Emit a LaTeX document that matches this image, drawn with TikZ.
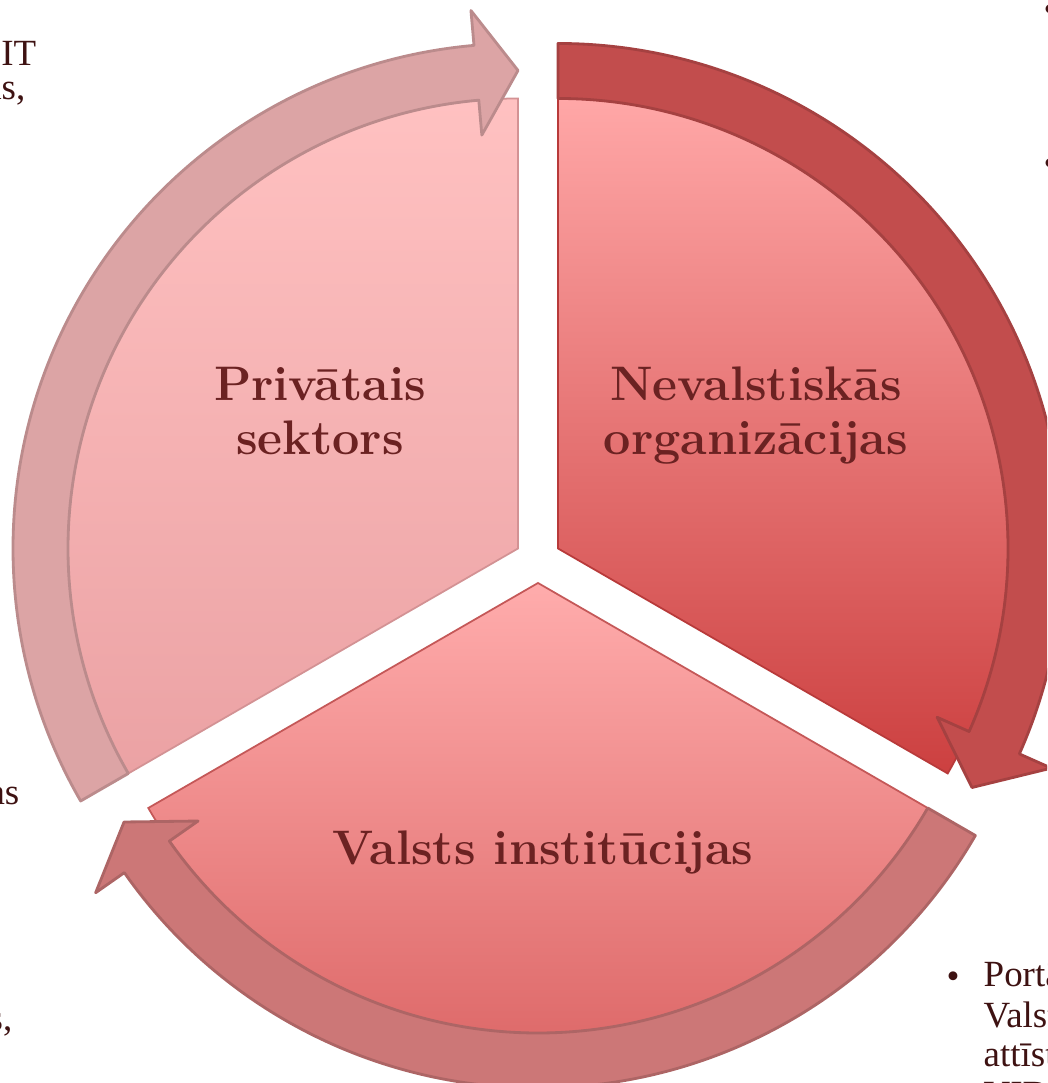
\documentclass[tikz,border=0pt]{standalone}
\usepackage{fontspec}
\usepackage{tikz}
\newfontfamily\fragfont{Liberation Serif}

\definecolor{privtop}{HTML}{FFC1C1}
\definecolor{privbot}{HTML}{EBA2A4}
\definecolor{privarrow}{HTML}{DCA4A5}
\definecolor{ngotop}{HTML}{FFA7A7}
\definecolor{ngobot}{HTML}{CC4040}
\definecolor{ngoarrow}{HTML}{C24D4D}
\definecolor{statetop}{HTML}{FFACAC}
\definecolor{statebot}{HTML}{DA6262}
\definecolor{statearrow}{HTML}{CC7777}
\definecolor{labelred}{HTML}{6B2222}
\definecolor{fragdark}{HTML}{3E1212}

% wedges (1 unit = 1 px of the reference)
\def\privwedge{(518,534.5) -- ++(210:450) arc[start angle=210, end angle=90, radius=450] -- cycle}
\def\ngowedge{(558,534.5) -- ++(90:450) arc[start angle=90, end angle=-30, radius=450] -- cycle}
\def\statewedge{(538,500) -- ++(330:450) arc[start angle=330, end angle=210, radius=450] -- cycle}

% circular arrows, around the apex of their wedge
\def\privband{(210:505) arc[start angle=210, end angle=95, radius=505] -- (95:540) -- (90:478) -- (95:415) -- (95:450) arc[start angle=95, end angle=210, radius=450] -- cycle}
\def\ngoband{(90:505) arc[start angle=90, end angle=-24, radius=505] -- (-24:540) -- (-30:478) -- (-24:415) -- (-24:450) arc[start angle=-24, end angle=90, radius=450] -- cycle}
\def\stateband{(330:505) arc[start angle=330, end angle=215, radius=505] -- (215:540) -- (210:478) -- (215:415) -- (215:450) arc[start angle=215, end angle=330, radius=450] -- cycle}

\tikzset{
  maintext/.style={text=labelred, align=center, inner sep=0pt,
    font=\fontsize{13.8}{15.6}\selectfont\bfseries},
  fragtext/.style={text=fragdark, inner sep=0pt,
    font=\fragfont\fontsize{10.5}{11.7}\selectfont},
  arrowband/.style={fill=#1, draw=#1!85!black, line width=0.8, line join=round}
}

\begin{document}
\begin{tikzpicture}[x=0.01cm, y=0.01cm]
      \useasboundingbox (0,0) rectangle (1047,1083);
      \clip (0,0) rectangle (1047,1083);

      % Wedges
      \shade[top color=privtop, bottom color=privbot] \privwedge;
      \draw[privbot!90!black, line width=0.5] \privwedge;

      \shade[top color=ngotop, bottom color=ngobot] \ngowedge;
      \draw[ngobot!90!black, line width=0.5] \ngowedge;

      \shade[top color=statetop, bottom color=statebot] \statewedge;
      \draw[statebot!90!black, line width=0.5] \statewedge;

      % Arrows
      \begin{scope}[shift={(518,534.5)}]
        \path[arrowband=privarrow] \privband;
      \end{scope}
      \begin{scope}[shift={(558,534.5)}]
        \path[arrowband=ngoarrow] \ngoband;
      \end{scope}
      \begin{scope}[shift={(538,500)}]
        \path[arrowband=statearrow] \stateband;
      \end{scope}

      % Labels
      \node[maintext] (private) at (320,672) {Privātais\\sektors};
      \node[maintext] (ngo) at (756,667.5) {Nevalstiskās\\organizācijas};
      \node[maintext, anchor=base] (state) at (543,218) {Valsts institūcijas};

      % Text cut off at the left
      \node[fragtext, anchor=base east] (fragit) at (37,1017) {un IT};
      \node[fragtext, anchor=base east] (fragas) at (26,983) {as,};
      \node[fragtext, anchor=base east] (fragasb) at (20,278) {as};
      \node[fragtext, anchor=base east] (frags) at (13,52) {s,};

      % Text cut off at the right
      \node[fragtext] (dottop) at (1050,1070) {\textbullet};
      \node[fragtext] (dotmid) at (1050,916) {\textbullet};
      \node[fragtext] (dotlow) at (953,103) {\textbullet};
      \node[fragtext, anchor=base west] (lineone) at (983,96) {Portā};
      \node[fragtext, anchor=base west] (linetwo) at (983,55) {Valst};
      \node[fragtext, anchor=base west] (linethree) at (983,16) {attīst};
      \node[fragtext, anchor=base west] (linefour) at (983,-24) {VID};

    \end{tikzpicture}
\end{document}
